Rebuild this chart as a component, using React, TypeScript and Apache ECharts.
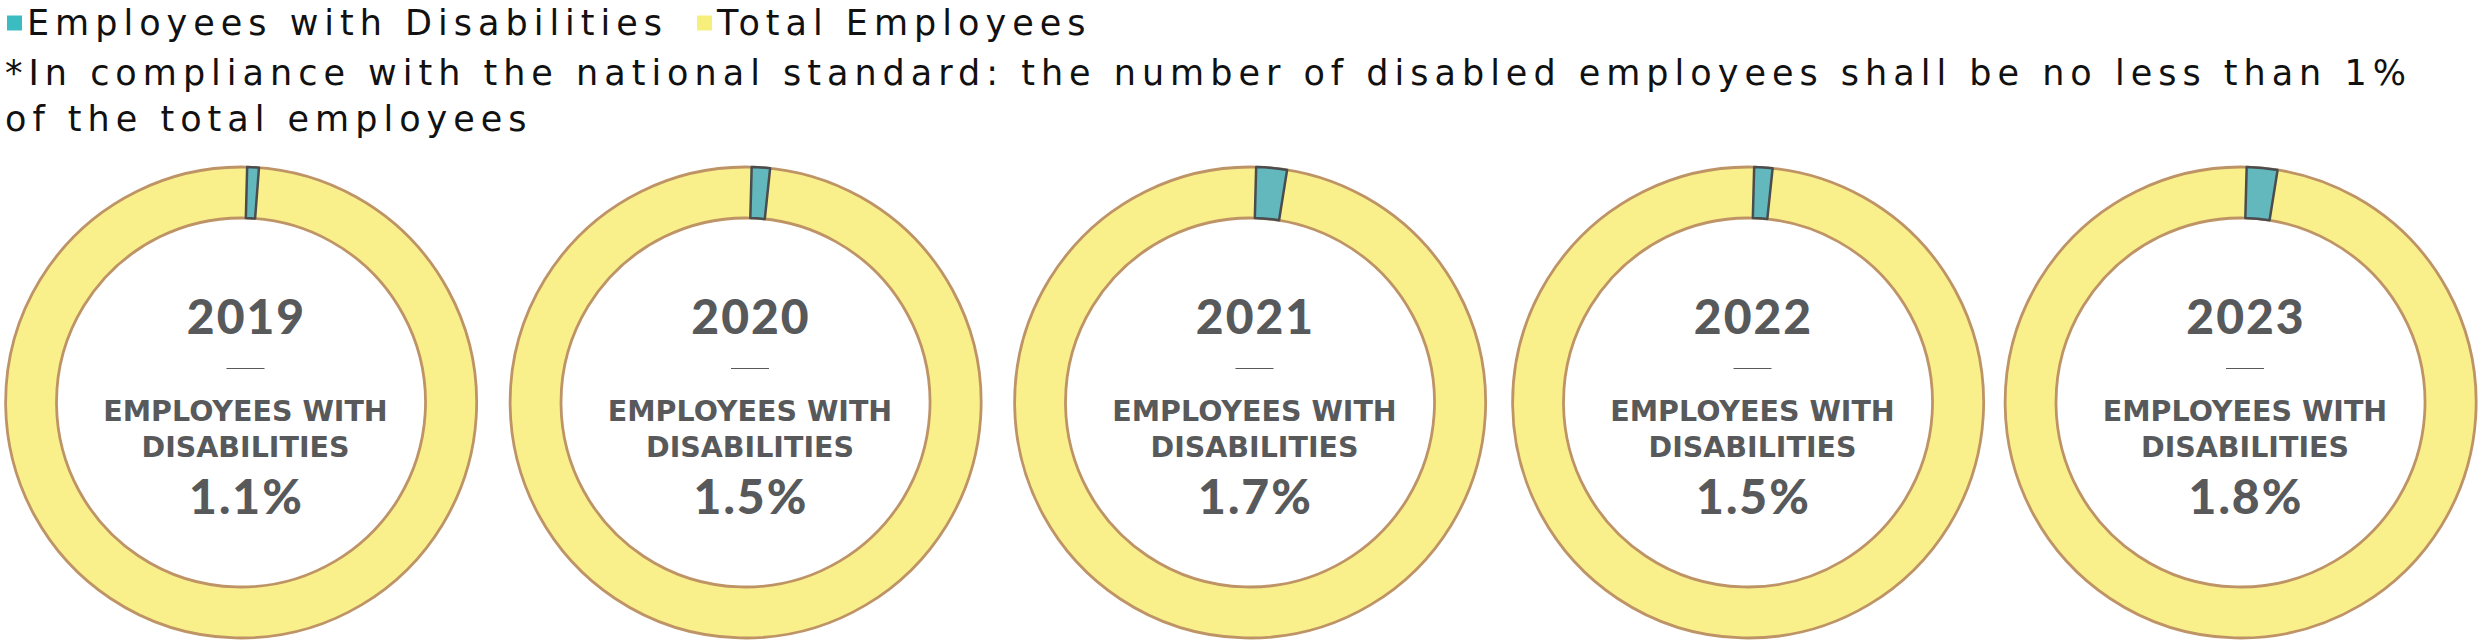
import React, { useEffect, useRef } from 'react';
import * as echarts from 'echarts';

// ---- data ----
const years = ['2019', '2020', '2021', '2022', '2023'];
const disabledRateLabel = ['1.1%', '1.5%', '1.7%', '1.5%', '1.8%'];
// teal arc share of each ring as drawn in the picture (%)
const disabledArcShare = [0.8, 1.25, 2.1, 1.25, 2.1];
const legendNames = ['Employees with Disabilities', 'Total Employees'];
const centerCaption = 'EMPLOYEES WITH\nDISABILITIES';
const noteText =
  '*In compliance with the national standard: the number of disabled employees shall be no less than 1%\nof the total employees';

// ---- layout / style ----
const CX = [241, 745.5, 1250, 1748, 2240.5];
const CY = 402.5;
const TEXT_DX = 4.5;
const START = 88.5;
const TEAL = '#62b8bc';
const TEAL_LEGEND = '#3bbcc1';
const YELLOW = '#faf08b';
const YELLOW_LEGEND = '#f7ef7c';
const TAN = '#be9466';
const DARK = '#4b4c4e';
const GRAY = '#58595b';
const SPACED = "'DejaVu Sans', spacedtext";
const BIGNUM = "Lato, bignum";

export default function App() {
  const ref = useRef<HTMLDivElement>(null);

  useEffect(() => {
    if (!ref.current) return;
    const chart = echarts.init(ref.current, undefined, { renderer: 'svg' });

    const series: any[] = [];
    const graphic: any[] = [];
    years.forEach((yr, i) => {
      const common = {
        type: 'pie',
        center: [CX[i], CY],
        radius: [184.5, 235.5],
        startAngle: START,
        clockwise: true,
        silent: true,
        label: { show: false },
        labelLine: { show: false },
        emphasis: { disabled: true },
      };
      series.push({
        ...common,
        name: 'total-' + yr,
        data: [
          {
            name: legendNames[1],
            value: 100 - disabledArcShare[i],
            itemStyle: { color: YELLOW, borderColor: TAN, borderWidth: 2.8 },
          },
        ],
      });
      series.push({
        ...common,
        name: 'disabled-' + yr,
        data: [
          {
            name: legendNames[0],
            value: disabledArcShare[i],
            itemStyle: { color: TEAL, borderColor: DARK, borderWidth: 2.5 },
          },
          {
            name: '',
            value: 100 - disabledArcShare[i],
            itemStyle: { color: 'rgba(0,0,0,0)', borderWidth: 0 },
          },
        ],
      });

      const tx = CX[i] + TEXT_DX;
      graphic.push(
        {
          type: 'text',
          x: tx + 1,
          y: CY - 87,
          style: {
            text: yr,
            font: '900 48px ' + BIGNUM,
            fill: GRAY,
            textAlign: 'center',
            textVerticalAlign: 'middle',
          },
        },
        {
          type: 'line',
          shape: { x1: tx - 19, y1: CY - 34, x2: tx + 19, y2: CY - 34 },
          style: { stroke: GRAY, lineWidth: 1.2 },
        },
        {
          type: 'text',
          x: tx,
          y: CY + 26.5,
          style: {
            text: centerCaption,
            font: "bold 28.5px 'DejaVu Sans'",
            lineHeight: 36,
            fill: GRAY,
            textAlign: 'center',
            textVerticalAlign: 'middle',
          },
        },
        {
          type: 'text',
          x: tx + 1,
          y: CY + 93,
          style: {
            text: disabledRateLabel[i],
            font: '900 48px ' + BIGNUM,
            fill: GRAY,
            textAlign: 'center',
            textVerticalAlign: 'middle',
          },
        }
      );
    });

    graphic.push({
      type: 'text',
      x: 5,
      y: 96,
      style: {
        text: noteText,
        font: '35px ' + SPACED,
        lineHeight: 46,
        fill: '#111',
        textAlign: 'left',
        textVerticalAlign: 'middle',
      },
    });

    const legendCommon = {
      top: 3,
      padding: 0,
      icon: 'rect',
      itemWidth: 15,
      itemHeight: 15,
      selectedMode: false,
      textStyle: { fontFamily: SPACED, fontSize: 35, color: '#111', lineHeight: 40 },
    };

    chart.setOption({
      animation: false,
      legend: [
        {
          ...legendCommon,
          left: 7,
          data: [{ name: legendNames[0], itemStyle: { color: TEAL_LEGEND, borderWidth: 0 } }],
        },
        {
          ...legendCommon,
          left: 697,
          data: [{ name: legendNames[1], itemStyle: { color: YELLOW_LEGEND, borderWidth: 0 } }],
        },
      ],
      series,
      graphic,
    });

    return () => chart.dispose();
  }, []);

  return (
    <>
      <style>
        {'text[style*="spacedtext"]{letter-spacing:6px;} text[style*="bignum"]{letter-spacing:2px;}'}
      </style>
      <div
        ref={ref}
        style={{ position: 'fixed', left: 0, top: 0, width: 2492, height: 640, background: '#fff' }}
      />
    </>
  );
}
